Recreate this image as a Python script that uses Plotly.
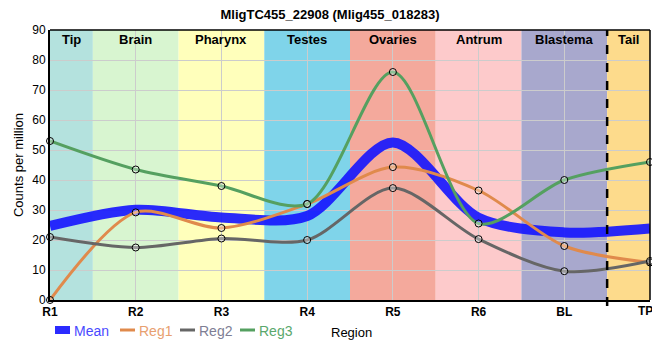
import plotly.graph_objects as go

categories = ["R1", "R2", "R3", "R4", "R5", "R6", "BL", "TP"]
reg1 = [0, 29.2, 24.0, 32.0, 44.3, 36.5, 18.0, 12.5]
reg2 = [21.0, 17.5, 20.5, 20.0, 37.3, 20.3, 9.6, 13.0]
reg3 = [53.0, 43.5, 38.0, 32.0, 76.0, 25.5, 40.0, 46.0]
mean = [round((a + b + c) / 3, 2) for a, b, c in zip(reg1, reg2, reg3)]

band_names = ["Tip", "Brain", "Pharynx", "Testes", "Ovaries", "Antrum", "Blastema", "Tail"]
band_edges = [0, 0.5, 1.5, 2.5, 3.5, 4.5, 5.5, 6.5, 7]
band_colors = ["#b4e2de", "#d8f5d0", "#ffffbb", "#7fd4ea", "#f4a99c", "#fdcacb", "#a8a8cd", "#fddb8c"]

legend_names = ["Mean", "Reg1", "Reg2", "Reg3"]
line_colors = ["rgba(20,20,255,0.9)", "#e08a4c", "#666666", "#55a060"]
text_colors = ["#4a4aff", "#e8a070", "#7e7e94", "#5aa86c"]

x = list(range(len(categories)))
SM = 0.85

fig = go.Figure()

marker_style = dict(symbol="circle", size=7, color="rgba(255,255,255,0.35)",
                    line=dict(color="black", width=1))

fig.add_trace(go.Scatter(
    x=x, y=mean, mode="lines", name="Mean",
    line=dict(color=line_colors[0], width=10, shape="spline", smoothing=SM),
    hoverinfo="skip"))
for name, vals, col in zip(legend_names[1:], [reg1, reg2, reg3], line_colors[1:]):
    fig.add_trace(go.Scatter(
        x=x, y=vals, mode="lines+markers", name=name,
        line=dict(color=col, width=3, shape="spline", smoothing=SM), marker=marker_style,
        cliponaxis=False))

def px(xp):  # page pixel -> paper x (plot spans 50..650)
    return (xp - 50) / 600.0

def py(yp):  # page pixel -> paper y (plot spans 30..300)
    return (300 - yp) / 270.0

shapes = []
annotations = []
for i, name in enumerate(band_names):
    x0, x1 = band_edges[i], band_edges[i + 1]
    shapes.append(dict(type="rect", xref="x", yref="paper", x0=x0, x1=x1, y0=0, y1=1,
                       fillcolor=band_colors[i], line=dict(width=0), layer="below"))
    annotations.append(dict(x=(x0 + x1) / 2, y=1, xref="x", yref="paper", yanchor="top",
                            yshift=0, text="<b>%s</b>" % name, showarrow=False,
                            font=dict(size=13, color="black", family="Arial")))
shapes.append(dict(type="line", xref="x", yref="paper", x0=6.5, x1=6.5, y0=py(306), y1=1,
                   line=dict(color="black", width=2.5, dash="dash")))
shapes.append(dict(type="line", xref="paper", yref="paper", x0=0, x1=1, y0=1, y1=1,
                   line=dict(color="black", width=1.5)))
shapes.append(dict(type="line", xref="paper", yref="paper", x0=1, x1=1, y0=0, y1=1,
                   line=dict(color="black", width=1.5)))

# manual legend (compact, like the reference)
leg_x = [55, 120, 180, 240]
leg_w = [8, 3, 3, 3]
for i, name in enumerate(legend_names):
    shapes.append(dict(type="line", xref="paper", yref="paper",
                       x0=px(leg_x[i]), x1=px(leg_x[i] + 15), y0=py(330), y1=py(330),
                       line=dict(color=line_colors[i], width=leg_w[i])))
    annotations.append(dict(x=px(leg_x[i] + 18), y=py(331), xref="paper", yref="paper",
                            xanchor="left", yanchor="middle", text=name, showarrow=False,
                            borderpad=0,
                            font=dict(size=14, color=text_colors[i], family="Arial")))

annotations.append(dict(x=px(330), y=py(332), xref="paper", yref="paper", xanchor="left",
                        yanchor="middle", text="Region", showarrow=False, borderpad=0,
                        font=dict(size=13, color="black", family="Arial")))

# the last category label sits at the right edge; draw it nudged left so it stays visible
tick_text = ["<b>%s</b>" % c for c in categories]
annotations.append(dict(x=x[-1], y=0, xref="x", yref="paper", xanchor="center",
                        yanchor="top", yshift=-3, xshift=-5, text=tick_text[-1],
                        showarrow=False, borderpad=0,
                        font=dict(size=12, color="black", family="Arial")))
tick_text[-1] = ""

# page has an 8px body margin: size the figure so it fits the window exactly
fig.update_layout(
    width=652, height=344,
    margin=dict(l=42, r=10, t=22, b=52),
    paper_bgcolor="white", plot_bgcolor="white",
    title=dict(text="<b>MligTC455_22908 (Mlig455_018283)</b>", x=px(330), xref="paper",
               xanchor="center", y=1, yref="container", yanchor="top", pad=dict(t=2),
               font=dict(size=13, color="black", family="Arial")),
    font=dict(family="Arial", size=12, color="black"),
    shapes=shapes, annotations=annotations,
    showlegend=False,
    xaxis=dict(range=[0, 7], tickvals=x, ticktext=tick_text,
               showgrid=True, gridcolor="#cccccc", gridwidth=1,
               showline=True, linecolor="black", linewidth=2, mirror=False,
               ticks="", zeroline=False, tickfont=dict(size=12), automargin=False,
               ticklabeloverflow="allow"),
    yaxis=dict(range=[0, 90], dtick=10, showgrid=True, gridcolor="#cccccc", gridwidth=1,
               showline=True, linecolor="black", linewidth=2, ticks="",
               zeroline=False, automargin=False,
               title=dict(text="Counts per million", standoff=6, font=dict(size=13))),
)

fig.write_html("out.html")
